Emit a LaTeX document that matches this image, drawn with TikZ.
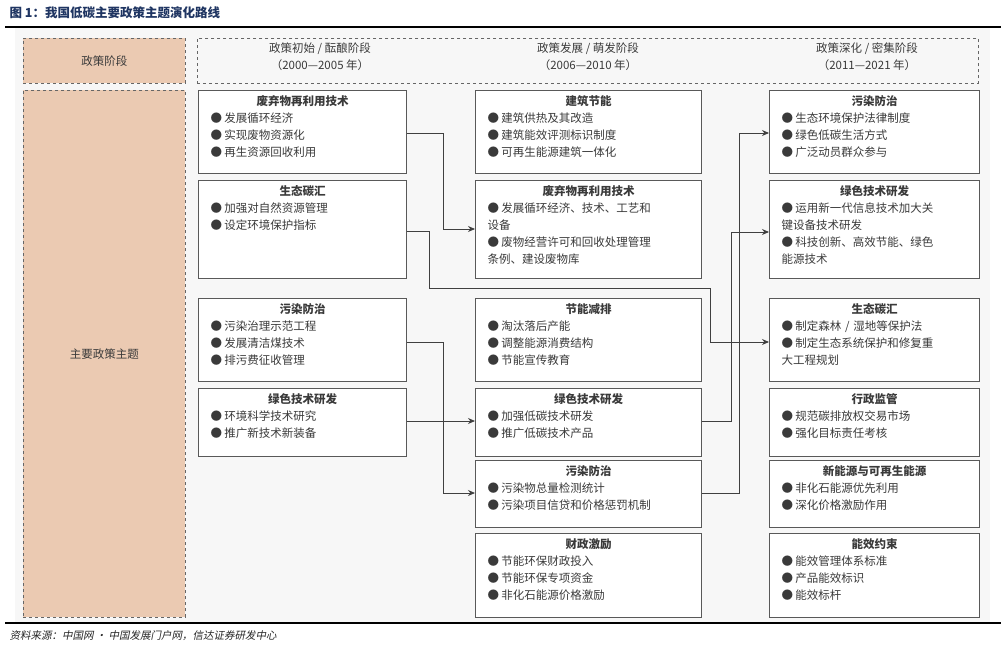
\documentclass[tikz,border=0pt]{standalone}
\usepackage{fontspec}
\setmainfont{Noto Sans CJK SC}
\newfontfamily\srcfont[FakeSlant=0.2]{Noto Sans CJK SC}
\usepackage{xcolor}
\usetikzlibrary{arrows.meta}

\definecolor{peach}{HTML}{EBCAB2}
\definecolor{bgray}{HTML}{F7F7F7}
\definecolor{titleblue}{HTML}{1F3562}
\definecolor{txt}{HTML}{3A3A3A}

% one bullet line, wrapped lines hang under the text
\newcommand{\itm}[1]{\par\hangindent=1.2em\hangafter=1\noindent\makebox[1.2em][l]{●}#1}

% \polbox{name}{x}{y}{width}{height}{title}{items}
\newcommand{\polbox}[7]{
    \node[box, minimum width=#4, minimum height=#5] (#1) at (#2,#3) {};
    \node[content, text width=\dimexpr#4pt-24pt\relax] at ([yshift=-5]#1.north) {{\centering\bfseries #6\par}\raggedright#7\par};
}

\begin{document}
\begin{tikzpicture}[x=1pt,y=-1pt,
    box/.style={draw=black!65, line width=1pt, fill=white, anchor=north west, inner sep=0pt},
    stage/.style={draw=black!60, dashed, line width=0.9pt, anchor=north west, inner sep=0pt},
    content/.style={anchor=north, inner sep=0pt, text=txt, font=\fontsize{11.5}{17}\selectfont},
    link/.style={draw=black!75, line width=0.9pt, -{Stealth[length=7pt,width=6pt]}}]

    \useasboundingbox (0,0) rectangle (1001,648);

    % frame
    \fill[bgray] (15,28) rectangle (990,622);
    \node[anchor=west, text=titleblue, font=\bfseries\fontsize{12.5}{14}\selectfont] (title) at (6,13) {图 1：我国低碳主要政策主题演化路线};
    \draw[line width=1.3pt] (5,27) -- (1001,27);
    \draw[line width=1.3pt] (5,623) -- (1001,623);
    \node[anchor=west, text=black!85, font=\srcfont\fontsize{10.5}{12}\selectfont] (source) at (6,636) {资料来源：中国网 · 中国发展门户网，信达证券研发中心};

    % stages
    \node[stage, fill=peach, minimum width=162, minimum height=45] (stg) at (23,38) {};
    \node[content] at (stg.center) [anchor=center] {政策阶段};
    \node[stage, fill=peach, minimum width=162, minimum height=527] (thm) at (23,90) {};
    \node[content] at (thm.center) [anchor=center] {主要政策主题};
    \node[stage, minimum width=781, minimum height=45] (hdr) at (197,38) {};
    \node[content, align=center] at (320,43) {政策初始 / 酝酿阶段\\（2000—2005 年）};
    \node[content, align=center] at (588,43) {政策发展 / 萌发阶段\\（2006—2010 年）};
    \node[content, align=center] at (867,43) {政策深化 / 密集阶段\\（2011—2021 年）};

    % 2000-2005
    \polbox{la}{198}{90}{208}{83}{废弃物再利用技术}{\itm{发展循环经济}\itm{实现废物资源化}\itm{再生资源回收利用}}
    \polbox{lb}{198}{180}{208}{98}{生态碳汇}{\itm{加强对自然资源管理}\itm{设定环境保护指标}}
    \polbox{lc}{198}{298}{208}{83}{污染防治}{\itm{污染治理示范工程}\itm{发展清洁煤技术}\itm{排污费征收管理}}
    \polbox{ld}{198}{388}{208}{68}{绿色技术研发}{\itm{环境科学技术研究}\itm{推广新技术新装备}}

    % 2006-2010
    \polbox{ma}{475}{90}{226}{83}{建筑节能}{\itm{建筑供热及其改造}\itm{建筑能效评测标识制度}\itm{可再生能源建筑一体化}}
    \polbox{mb}{475}{180}{226}{98}{废弃物再利用技术}{\itm{发展循环经济、技术、工艺和\\设备}\itm{废物经营许可和回收处理管理\\条例、建设废物库}}
    \polbox{mc}{475}{298}{226}{83}{节能减排}{\itm{淘汰落后产能}\itm{调整能源消费结构}\itm{节能宣传教育}}
    \polbox{md}{475}{388}{226}{68}{绿色技术研发}{\itm{加强低碳技术研发}\itm{推广低碳技术产品}}
    \polbox{me}{475}{460}{226}{67}{污染防治}{\itm{污染物总量检测统计}\itm{污染项目信贷和价格惩罚机制}}
    \polbox{mf}{475}{533}{226}{84}{财政激励}{\itm{节能环保财政投入}\itm{节能环保专项资金}\itm{非化石能源价格激励}}

    % 2011-2021
    \polbox{ra}{769}{90}{210}{83}{污染防治}{\itm{生态环境保护法律制度}\itm{绿色低碳生活方式}\itm{广泛动员群众参与}}
    \polbox{rb}{769}{180}{210}{98}{绿色技术研发}{\itm{运用新一代信息技术加大关\\键设备技术研发}\itm{科技创新、高效节能、绿色\\能源技术}}
    \polbox{rc}{769}{298}{210}{83}{生态碳汇}{\itm{制定森林 / 湿地等保护法}\itm{制定生态系统保护和修复重\\大工程规划}}
    \polbox{rd}{769}{388}{210}{68}{行政监管}{\itm{规范碳排放权交易市场}\itm{强化目标责任考核}}
    \polbox{re}{769}{460}{210}{67}{新能源与可再生能源}{\itm{非化石能源优先利用}\itm{深化价格激励作用}}
    \polbox{rf}{769}{533}{210}{84}{能效约束}{\itm{能效管理体系标准}\itm{产品能效标识}\itm{能效标杆}}

    % links between stages
    \draw[link] (la.east |- 0,133) -| (443,229) -- (mb.west |- 0,229);
    \draw[link] (lb.east |- 0,231) -| (429,288) -| (710,342) -- (rc.west |- 0,342);
    \draw[link] (lc.east |- 0,342) -| (443,493) -- (me.west |- 0,493);
    \draw[link] (ld.east |- 0,421) -- (md.west |- 0,421);
    \draw[link] (md.east |- 0,421) -| (731,232) -- (rb.west |- 0,232);
    \draw[link] (me.east |- 0,493) -| (739,133) -- (ra.west |- 0,133);

\end{tikzpicture}
\end{document}
